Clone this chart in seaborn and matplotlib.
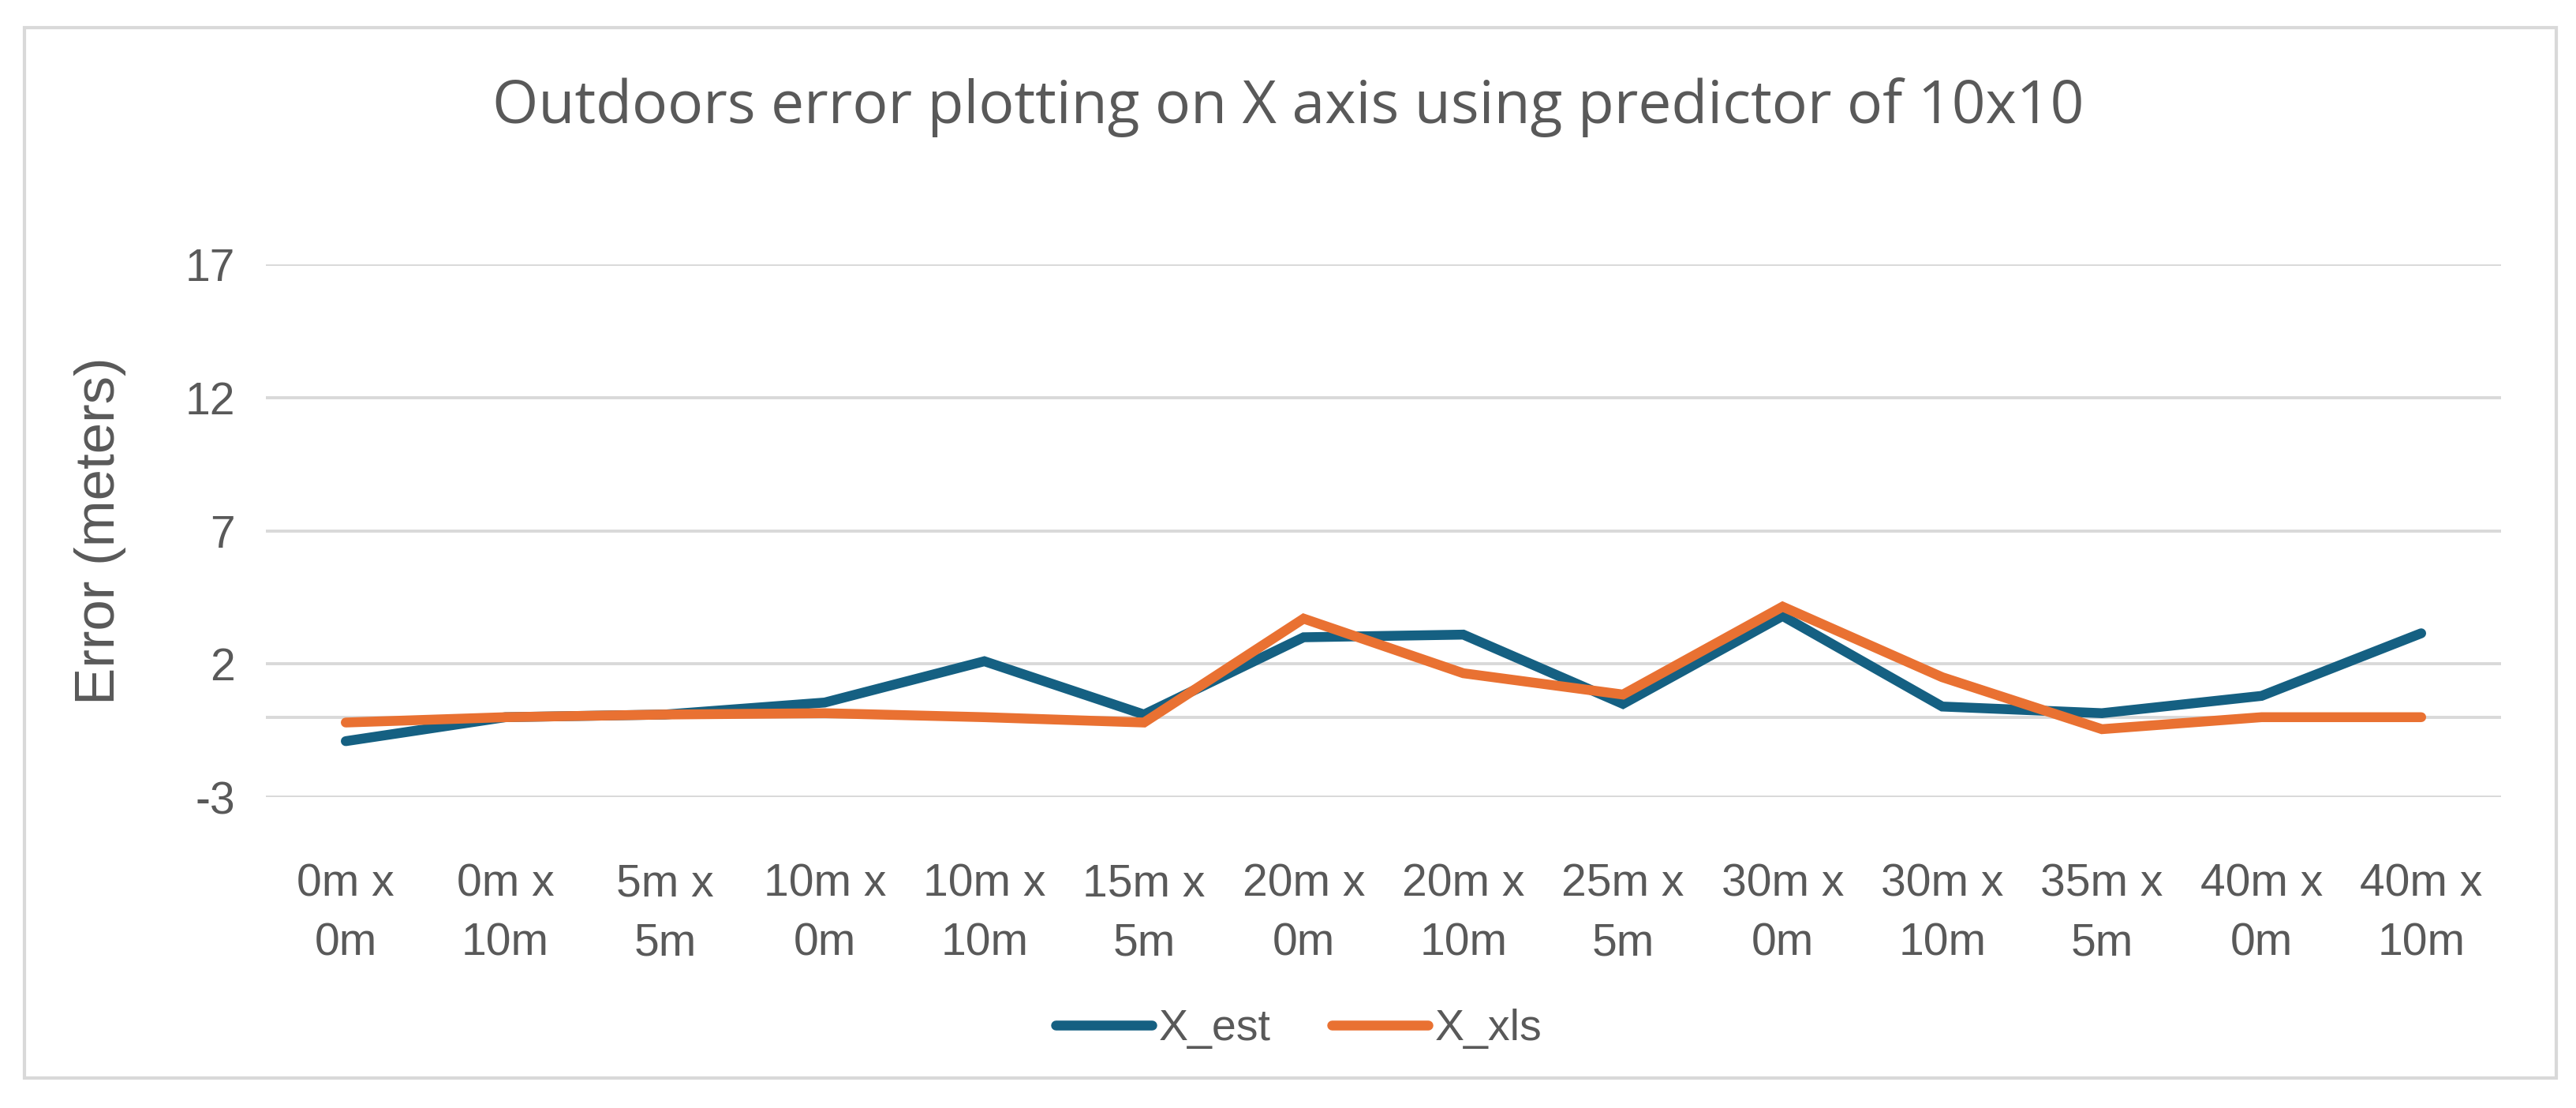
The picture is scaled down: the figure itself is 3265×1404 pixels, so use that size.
import pandas as pd
import matplotlib.pyplot as plt
import seaborn as sns
from matplotlib.patches import Rectangle

# Test positions (category labels) and estimated X errors in meters
positions = ['0m x\n0m', '0m x\n10m', '5m x\n5m', '10m x\n0m', '10m x\n10m', '15m x\n5m', '20m x\n0m',
             '20m x\n10m', '25m x\n5m', '30m x\n0m', '30m x\n10m', '35m x\n5m', '40m x\n0m', '40m x\n10m']
x_est = [-0.9, 0.0, 0.1, 0.55, 2.1, 0.1, 3.0, 3.1, 0.5, 3.8, 0.4, 0.15, 0.8, 3.15]
x_xls = [-0.2, 0.0, 0.1, 0.15, 0.0, -0.2, 3.7, 1.65, 0.85, 4.15, 1.5, -0.45, 0.0, 0.0]
y_ticks = [-3, 2, 7, 12, 17]

df = pd.DataFrame({'pos': positions * 2,
                   'error': x_est + x_xls,
                   'series': ['X_est'] * len(positions) + ['X_xls'] * len(positions)})

sns.set_style('white')
plt.rcParams['font.family'] = ['Liberation Sans', 'DejaVu Sans']
text_col = '#595959'
grid_col = '#D9D9D9'

fig = plt.figure(figsize=(32.66, 14.04), dpi=100)
ax = fig.add_axes([0.1032, 0.2806, 0.8674, 0.4808])

# chart border like the Excel chart area
fig.patches.append(Rectangle((31 / 3266, 1 - 1366 / 1404), (3240 - 31) / 3266, (1366 - 35) / 1404,
                             transform=fig.transFigure, fill=False, edgecolor=grid_col, linewidth=3))

# gridlines + zero axis line
for t in y_ticks:
    ax.axhline(t, color=grid_col, linewidth=2.8, zorder=0)
ax.axhline(0, color=grid_col, linewidth=2.8, zorder=0)

sns.lineplot(data=df, x='pos', y='error', hue='series', palette=['#156082', '#E97132'],
             linewidth=9, sort=False, ax=ax, legend=False)
for line in ax.lines:
    line.set_solid_capstyle('round')
    line.set_solid_joinstyle('miter')

ax.set_ylim(-3, 17)
ax.set_xlim(-0.5, len(positions) - 0.5)
ax.set_yticks(y_ticks)
ax.set_yticklabels([str(t) for t in y_ticks])
ax.tick_params(axis='both', length=0, labelsize=41, labelcolor=text_col)
ax.tick_params(axis='y', pad=28)
ax.tick_params(axis='x', pad=60)
for lbl in ax.get_xticklabels():
    lbl.set_linespacing(1.5)
ax.set_xlabel('')
ax.set_ylabel('Error (meters)', fontsize=51, color=text_col, labelpad=54)
for s in ax.spines.values():
    s.set_visible(False)

fig.text(0.5, 0.903, 'Outdoors error plotting on X axis using predictor of 10x10',
         ha='center', va='center', fontsize=54, color=text_col, family=['Open Sans', 'DejaVu Sans'])

handles = [plt.Line2D([0], [0], color='#156082', linewidth=9, solid_capstyle='round'),
           plt.Line2D([0], [0], color='#E97132', linewidth=9, solid_capstyle='round')]
fig.legend(handles=handles, labels=['X_est', 'X_xls'], loc='center', bbox_to_anchor=(0.504, 1 - 1304 / 1404),
           ncol=2, frameon=False, fontsize=40, handlelength=2.2, handletextpad=0.15, columnspacing=1.4,
           labelcolor=text_col)

fig.savefig('out.png', dpi=100, facecolor='white')
